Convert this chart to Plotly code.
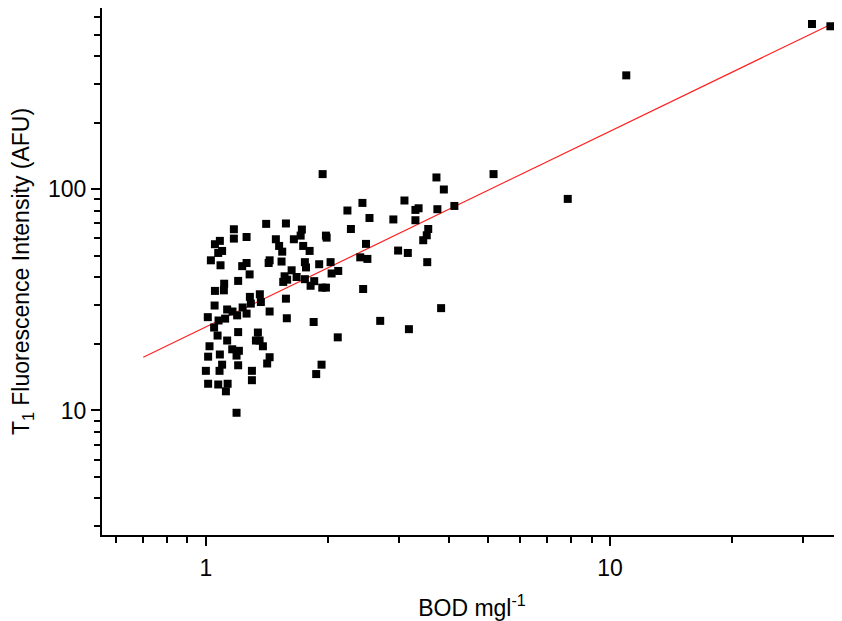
import plotly.graph_objects as go

# BOD (mg/l) vs T1 fluorescence (AFU)
bod = [31.6, 35.1, 10.97, 5.15, 7.86, 1.945, 3.72, 3.88, 3.10, 2.44,
       2.24, 2.54, 2.91, 3.30, 3.36, 3.74, 4.12, 3.30, 1.578, 2.285,
       2.49, 3.55, 3.52, 3.45, 2.99, 3.16, 2.41, 2.51, 3.53, 2.45,
       3.82, 2.70, 3.18, 2.12, 1.933, 1.875, 1.191,
       1.173, 1.173, 1.261, 1.410, 1.728, 1.716, 1.651, 1.982, 1.99, 1.490,
       1.518, 1.545, 1.741, 1.806, 1.083, 1.053, 1.097, 1.073, 1.029, 1.087,
       1.261, 1.230, 1.438, 1.430, 1.539, 1.758, 1.769, 1.907, 2.035, 2.126,
       2.047, 1.630, 1.677, 1.566, 1.554, 1.589, 1.758, 1.854, 1.816, 1.941,
       1.982, 1.283, 1.202, 1.110, 1.053, 1.108, 1.578, 1.285, 1.292, 1.360,
       1.368, 1.051, 1.129, 1.164, 1.195, 1.233, 1.261, 1.011, 1.075, 1.116,
       1.438, 1.586, 1.848, 1.048, 1.069, 1.202, 1.345, 1.358, 1.330, 1.384,
       1.129, 1.162, 1.207, 1.191, 1.021, 1.013, 1.083, 1.097, 1.081, 1.202,
       1.438, 1.418, 1.000, 1.300, 1.300, 1.013, 1.073, 1.132, 1.121]
t1 = [558, 545, 327, 117, 90.4, 117, 113, 99.7, 88.9, 86.7,
      80.1, 74.1, 73.0, 80.6, 82.0, 81.2, 84.0, 72.4, 70.0, 66.1,
      56.6, 66.1, 61.9, 58.8, 52.8, 51.5, 49.2, 48.4, 46.8, 35.4,
      29.0, 25.4, 23.3, 21.4, 16.1, 14.6, 9.76,
      65.9, 59.8, 60.8, 69.7, 65.7, 61.7, 59.4, 61.7, 60.4, 59.4,
      55.4, 52.2, 55.4, 52.6, 58.4, 56.4, 52.6, 51.5, 47.7, 45.3,
      46.4, 44.9, 47.7, 46.4, 47.1, 46.8, 44.3, 45.8, 46.8, 42.7,
      41.6, 43.0, 40.1, 40.4, 38.1, 39.0, 39.2, 38.4, 36.6, 35.9,
      35.9, 41.2, 38.5, 37.4, 34.7, 34.9, 32.0, 32.6, 30.4, 33.5,
      30.9, 29.8, 28.6, 28.0, 26.9, 29.2, 27.4, 26.4, 25.5, 26.0,
      28.0, 26.1, 25.1, 23.7, 21.8, 22.6, 22.5, 20.7, 20.7, 19.5,
      20.7, 18.9, 18.6, 17.7, 19.5, 17.5, 17.9, 16.1, 15.1, 16.0,
      17.4, 16.3, 15.1, 15.1, 13.7, 13.2, 13.1, 13.2, 12.2]

# fitted line end points
fit_bod = [0.70, 38.0]
fit_t1 = [17.4, 595]

x_major = [1, 10]
x_minor = [0.6, 0.7, 0.8, 0.9, 2, 3, 4, 5, 6, 7, 8, 9, 20, 30]
y_major = [10, 100]
y_minor = [3, 4, 5, 6, 7, 8, 9, 20, 30, 40, 50, 60, 70, 80, 90,
           200, 300, 400, 500, 600]

font = "Liberation Sans, Arial, Helvetica, sans-serif"

fig = go.Figure()
fig.add_trace(go.Scatter(x=fit_bod, y=fit_t1, mode="lines",
                         line=dict(color="#ff2020", width=1.2),
                         showlegend=False, hoverinfo="skip"))
fig.add_trace(go.Scatter(x=bod, y=t1, mode="markers",
                         marker=dict(symbol="square", size=8, color="black",
                                     line=dict(width=0)),
                         showlegend=False))

axis_common = dict(showgrid=False, zeroline=False, showline=True,
                   linecolor="black", linewidth=2, ticks="outside",
                   ticklen=9, tickwidth=1.5, tickcolor="black",
                   tickfont=dict(family=font, size=23, color="black"),
                   mirror=False, automargin=False)

fig.update_xaxes(type="log", range=[-0.257, 1.574], tickmode="array",
                 tickvals=x_major, ticktext=["1", "10"], ticklabelstandoff=2,
                 minor=dict(tickmode="array", tickvals=x_minor, ticks="outside",
                            ticklen=6, tickwidth=1.5, tickcolor="black"),
                 title=dict(text="BOD mgl<sup>-1</sup>", standoff=22,
                            font=dict(family=font, size=23, color="black")),
                 **axis_common)
fig.update_yaxes(type="log", range=[0.437, 2.819], tickmode="array",
                 tickvals=y_major, ticktext=["10", "100"],
                 minor=dict(tickmode="array", tickvals=y_minor, ticks="outside",
                            ticklen=6, tickwidth=1.5, tickcolor="black"),
                 title=dict(text="T<sub>1</sub> Fluorescence Intensity (AFU)",
                            standoff=16,
                            font=dict(family=font, size=23, color="black")),
                 **axis_common)

# page body adds 8px on the left and top, so the figure is sized to fit
fig.update_layout(width=834, height=613,
                  margin=dict(l=94, r=0, t=0, b=86),
                  paper_bgcolor="white", plot_bgcolor="white",
                  font=dict(family=font, color="black"))

fig.write_html("out.html", config={"displayModeBar": False})
